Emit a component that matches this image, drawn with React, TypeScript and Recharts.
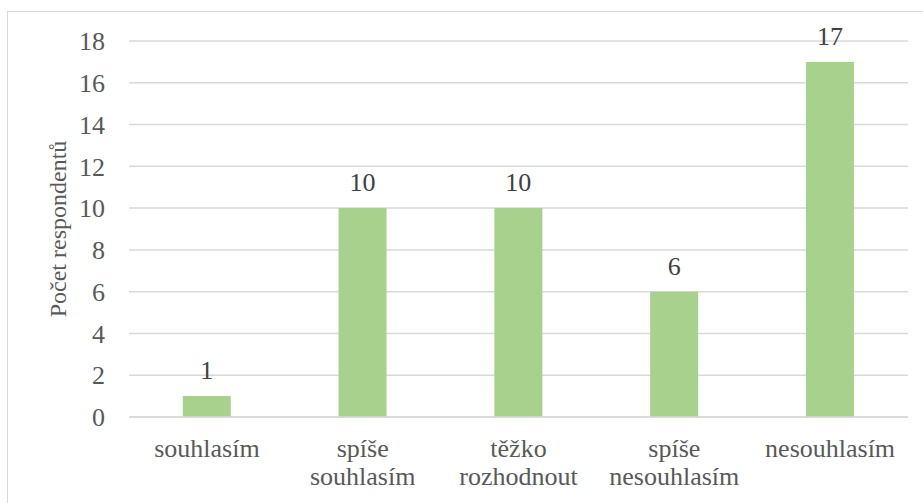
import { Bar, BarChart, CartesianGrid, LabelList, XAxis, YAxis } from 'recharts';

const categories = ['souhlasím', 'spíše\nsouhlasím', 'těžko\nrozhodnout', 'spíše\nnesouhlasím', 'nesouhlasím'];
const counts = [1, 10, 10, 6, 17];
const yTicks = [0, 2, 4, 6, 8, 10, 12, 14, 16, 18];

const data = categories.map((category, i) => ({ category, count: counts[i] }));

const FONT = 'Liberation Serif';

function CategoryTick({ x, y, payload }: any) {
  const lines = String(payload.value).split('\n');
  return (
    <text x={x} y={y} textAnchor="middle" fill="#595959" fontSize={26} fontFamily={FONT}>
      {lines.map((line, i) => (
        <tspan key={i} x={x} y={y + 40 + i * 28}>
          {line}
        </tspan>
      ))}
    </text>
  );
}

export default function App() {
  return (
    <div
      className="chart-box"
      style={{
        position: 'absolute',
        left: 0,
        top: 0,
        width: 923,
        height: 503,
        overflow: 'hidden',
        background: '#fff',
      }}
    >
      <style>{`#root .chart-box svg text, #root .chart-box svg tspan { font-family: 'Liberation Serif' !important; }`}</style>
      <div
        style={{
          position: 'absolute',
          left: 7,
          top: 11,
          width: 940,
          height: 520,
          border: '1px solid #d9d9d9',
          boxSizing: 'border-box',
        }}
      />
      <div style={{ position: 'absolute', left: 0, top: 0 }}>
        <BarChart
          width={923}
          height={503}
          data={data}
          margin={{ top: 41, right: 15, bottom: 56, left: 69 }}
          barCategoryGap="34.5%"
        >
          <CartesianGrid vertical={false} stroke="#d9d9d9" strokeWidth={1.5} />
          <XAxis
            dataKey="category"
            height={30}
            tick={<CategoryTick />}
            tickLine={false}
            axisLine={{ stroke: '#d9d9d9', strokeWidth: 1.5 }}
            tickSize={0}
            tickMargin={0}
            interval={0}
          />
          <YAxis
            width={60}
            domain={[0, 18]}
            ticks={yTicks}
            tickLine={false}
            axisLine={false}
            tickSize={0}
            tickMargin={24}
            tick={{ fill: '#595959', fontSize: 26, fontFamily: FONT }}
            label={{
              value: 'Počet respondentů',
              angle: -90,
              position: 'insideLeft',
              offset: -12,
              fill: '#595959',
              fontSize: 24,
              fontFamily: FONT,
              textAnchor: 'middle',
            }}
          />
          <Bar dataKey="count" fill="#a9d18e" isAnimationActive={false}>
            <LabelList
              dataKey="count"
              position="top"
              offset={17}
              fill="#404040"
              fontSize={26}
              fontFamily={FONT}
            />
          </Bar>
        </BarChart>
      </div>
    </div>
  );
}
